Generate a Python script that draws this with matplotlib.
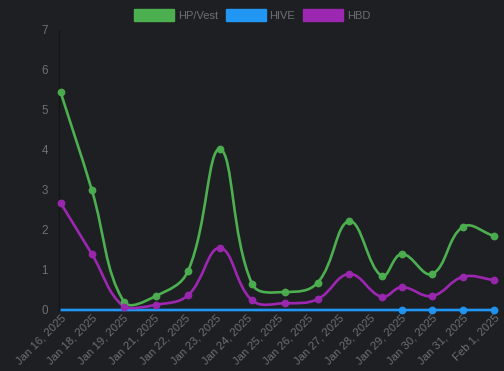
import numpy as np
import matplotlib
matplotlib.use('Agg')
import matplotlib.pyplot as plt
from matplotlib.path import Path
from matplotlib.patches import PathPatch, Patch

plt.rcParams['font.family'] = ['Liberation Sans', 'DejaVu Sans']

labels = ['Jan 16, 2025', 'Jan 18, 2025', 'Jan 19, 2025', 'Jan 21, 2025', 'Jan 22, 2025',
          'Jan 23, 2025', 'Jan 24, 2025', 'Jan 25, 2025', 'Jan 26, 2025', 'Jan 27, 2025',
          'Jan 28, 2025', 'Jan 29, 2025', 'Jan 30, 2025', 'Jan 31, 2025', 'Feb 1, 2025']
x_vals = [0, 1.01, 2.05, 3.08, 4.12, 5.15, 6.19, 7.26, 8.3, 9.33, 10.37, 11.02, 12.0, 13.0, 14.0]
hp_vest = [5.45, 3.0, 0.2, 0.35, 0.98, 4.02, 0.65, 0.45, 0.68, 2.22, 0.85, 1.4, 0.9, 2.08, 1.85]
hive = [0, 0, 0, 0, 0, 0, 0, 0, 0, 0, 0, 0, 0, 0, 0]
hbd = [2.68, 1.4, 0.08, 0.13, 0.37, 1.55, 0.24, 0.17, 0.27, 0.9, 0.33, 0.57, 0.35, 0.83, 0.75]
y_ticks = [0, 1, 2, 3, 4, 5, 6, 7]

BG = '#1e1f22'
TXT = '#6e6f72'
GREEN = '#4caf50'
BLUE = '#2196f3'
PURPLE = '#9c27b0'

fig = plt.figure(figsize=(5.04, 3.71), dpi=100, facecolor=BG)
ax = fig.add_axes([59 / 504, 1 - 310 / 371, (494 - 59) / 504, 280 / 371])
ax.set_facecolor(BG)

SX, SY = 31.0, 40.0


def spline_path(xs, ys, t=0.4, ymin=0.0, ymax=7.0):
    pts = np.column_stack([np.asarray(xs, float) * SX, np.asarray(ys, float) * SY])
    n = len(pts)
    cp_prev = np.zeros_like(pts)
    cp_next = np.zeros_like(pts)
    for i in range(n):
        cur = pts[i]
        prev = pts[i - 1] if i > 0 else cur
        nxt = pts[i + 1] if i < n - 1 else cur
        d01 = np.hypot(*(cur - prev))
        d12 = np.hypot(*(nxt - cur))
        tot = d01 + d12
        s01 = d01 / tot if tot > 0 else 0
        s12 = d12 / tot if tot > 0 else 0
        fa, fb = t * s01, t * s12
        cp_prev[i] = cur - fa * (nxt - prev)
        cp_next[i] = cur + fb * (nxt - prev)
    cp_prev[:, 1] = np.clip(cp_prev[:, 1], ymin * SY, ymax * SY)
    cp_next[:, 1] = np.clip(cp_next[:, 1], ymin * SY, ymax * SY)
    verts = [pts[0]]
    codes = [Path.MOVETO]
    for i in range(1, n):
        verts += [cp_next[i - 1], cp_prev[i], pts[i]]
        codes += [Path.CURVE4] * 3
    verts = np.array(verts) / np.array([SX, SY])
    return Path(verts, codes)


series = [(hp_vest, GREEN, 'HP/Vest', None), (hive, BLUE, 'HIVE', list(range(11, 15))), (hbd, PURPLE, 'HBD', None)]
for vals, col, name, mk in series:
    ax.add_patch(PathPatch(spline_path(x_vals, vals), fill=False, edgecolor=col, lw=1.9,
                           zorder=3, clip_on=False))
    xs = np.array(x_vals)
    ys = np.array(vals)
    idx = mk if mk is not None else list(range(len(xs)))
    ax.plot(xs[idx], ys[idx], 'o', ms=4.6, color=col, mfc=col, mec=col, alpha=0.95,
            zorder=4, clip_on=False)

ax.set_xlim(-0.05, 14.0)
ax.set_ylim(0, 7)
ax.set_xticks(range(len(labels)))
ax.set_xticklabels(labels, rotation=45, ha='right', va='top', rotation_mode='anchor', color=TXT, fontsize=8.2)
ax.set_yticks(y_ticks)
ax.set_yticklabels([str(v) for v in y_ticks], color=TXT, fontsize=8.4)
ax.tick_params(axis='both', length=0)
ax.tick_params(axis='x', pad=2)
ax.tick_params(axis='y', pad=8)
for s in ['top', 'right', 'bottom']:
    ax.spines[s].set_visible(False)
ax.spines['left'].set_color('#141517')
ax.spines['left'].set_linewidth(1.0)

handles = [Patch(facecolor=GREEN, edgecolor=GREEN), Patch(facecolor=BLUE, edgecolor=BLUE),
           Patch(facecolor=PURPLE, edgecolor=PURPLE)]
leg = fig.legend(handles, ['HP/Vest', 'HIVE', 'HBD'], loc='center', bbox_to_anchor=(0.5, 1 - 15 / 371),
                 ncol=3, frameon=False, fontsize=8.0, handlelength=3.6, handleheight=1.3,
                 handletextpad=0.35, columnspacing=0.7, labelcolor=TXT)

fig.savefig('out.png', dpi=100, facecolor=BG)
